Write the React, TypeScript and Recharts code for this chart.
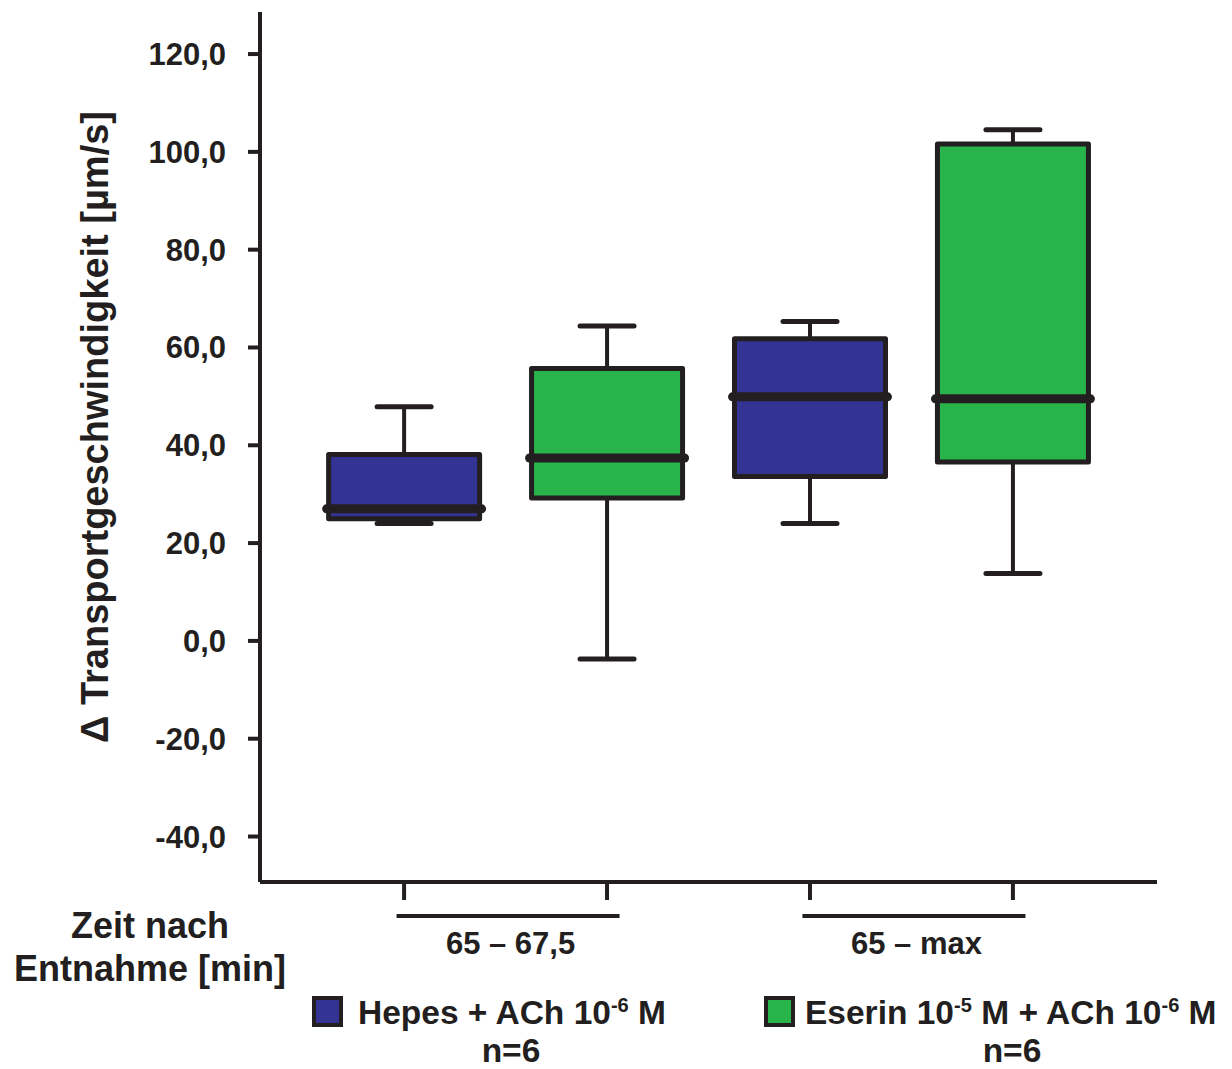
import React from 'react';
import { ComposedChart, Bar, XAxis, YAxis, Label } from 'recharts';

// box plot values
const positions = [1, 2, 3, 4];
const groups = ['hepes', 'eserin', 'hepes', 'eserin'];
const minValues = [24.0, -3.7, 24.0, 13.8];
const q1Values = [25.0, 29.2, 33.6, 36.6];
const medianValues = [27.0, 37.4, 49.9, 49.5];
const q3Values = [38.1, 55.7, 61.8, 101.6];
const maxValues = [47.9, 64.4, 65.3, 104.5];

const yTicks = [-40, -20, 0, 20, 40, 60, 80, 100, 120];
const groupTicks = [1.5, 3.5];
const groupLabels = ['65 – 67,5', '65 – max'];

const INK = '#231f20';
const FONT = '"Liberation Sans", Arial, Helvetica, sans-serif';
const colors: Record<string, string> = { hepes: '#333393', eserin: '#28b34b' };

const data = positions.map((pos, i) => ({
  pos,
  group: groups[i],
  base: minValues[i],
  lowWhisker: q1Values[i] - minValues[i],
  lowBox: medianValues[i] - q1Values[i],
  highBox: q3Values[i] - medianValues[i],
  highWhisker: maxValues[i] - q3Values[i],
}));

const norm = (p: any) => {
  const top = Math.min(p.y, p.y + p.height);
  const h = Math.abs(p.height);
  return { x: p.x, w: p.width, top, bottom: top + h, cx: p.x + p.width / 2 };
};

const LowWhisker = (props: any) => {
  const { top, bottom, cx } = norm(props);
  return (
    <g>
      <line x1={cx} x2={cx} y1={top} y2={bottom} stroke={INK} strokeWidth={4} />
      <line x1={cx - 27} x2={cx + 27} y1={bottom} y2={bottom} stroke={INK} strokeWidth={5} strokeLinecap="round" />
    </g>
  );
};

const HighWhisker = (props: any) => {
  const { top, bottom, cx } = norm(props);
  return (
    <g>
      <line x1={cx} x2={cx} y1={top} y2={bottom} stroke={INK} strokeWidth={4} />
      <line x1={cx - 27} x2={cx + 27} y1={top} y2={top} stroke={INK} strokeWidth={5} strokeLinecap="round" />
    </g>
  );
};

const LowBox = (props: any) => {
  const { x, w, top, bottom } = norm(props);
  return (
    <rect x={x} y={top} width={w} height={bottom - top} fill={colors[props.payload.group]} stroke={INK} strokeWidth={5} strokeLinejoin="round" />
  );
};

const HighBox = (props: any) => {
  const { x, w, top, bottom } = norm(props);
  return (
    <g>
      <rect x={x} y={top} width={w} height={bottom - top} fill={colors[props.payload.group]} stroke={INK} strokeWidth={5} strokeLinejoin="round" />
      <line x1={x - 2} x2={x + w + 2} y1={bottom} y2={bottom} stroke={INK} strokeWidth={9} strokeLinecap="round" />
    </g>
  );
};

const NoTick = () => <g />;

const GroupTick = (props: any) => {
  const { x, y, payload } = props;
  const label = groupLabels[groupTicks.indexOf(payload.value)];
  return (
    <g>
      <line x1={x - 109} x2={x + 114} y1={y + 14} y2={y + 14} stroke={INK} strokeWidth={4} />
      <text x={x + 5} y={y + 52} textAnchor="middle" fontFamily={FONT} fontWeight="bold" fontSize={31} fill={INK}>
        {label}
      </text>
    </g>
  );
};

const YTitle = (props: any) => {
  const { viewBox } = props;
  const cx = viewBox.x + 108;
  const cy = viewBox.y + viewBox.height / 2 - 20;
  return (
    <text x={cx} y={cy} transform={`rotate(-90 ${cx} ${cy})`} textAnchor="middle" fontFamily={FONT} fontWeight="bold" fontSize={38} fill={INK}>
      Δ Transportgeschwindigkeit [µm/s]
    </text>
  );
};

const textStyle: React.CSSProperties = {
  position: 'absolute',
  fontFamily: FONT,
  fontWeight: 'bold',
  color: INK,
  whiteSpace: 'nowrap',
  lineHeight: 1,
};

const sup: React.CSSProperties = { fontSize: '0.6em', verticalAlign: '0.6em' };

const Swatch = ({ color, left }: { color: string; left: number }) => (
  <div style={{ position: 'absolute', left, top: 996, width: 23, height: 23, background: color, border: `4px solid ${INK}` }} />
);

export default function App() {
  return (
    <div style={{ position: 'relative', width: 1232, height: 1069, background: '#fff', overflow: 'hidden' }}>
      <style>{'body{margin:0}'}</style>
      <ComposedChart width={1232} height={1069} data={data} margin={{ top: 12, right: 75, bottom: 107, left: 0 }}>
        <XAxis
          xAxisId={0}
          dataKey="pos"
          type="number"
          domain={[0.29, 4.71]}
          allowDataOverflow
          ticks={positions}
          tick={<NoTick />}
          tickSize={18}
          height={20}
          axisLine={{ stroke: INK, strokeWidth: 4 }}
          tickLine={{ stroke: INK, strokeWidth: 4 }}
        />
        <XAxis
          xAxisId={1}
          dataKey="pos"
          type="number"
          domain={[0.29, 4.71]}
          allowDataOverflow
          ticks={groupTicks}
          tick={<GroupTick />}
          tickSize={0}
          tickMargin={0}
          height={60}
          axisLine={false}
          tickLine={false}
        />
        <YAxis
          type="number"
          domain={[-49.3, 128.6]}
          allowDataOverflow
          ticks={yTicks}
          interval={0}
          width={260}
          tickSize={12}
          tickMargin={22}
          tickFormatter={(v: number) => v.toFixed(1).replace('.', ',')}
          tick={{ fill: INK, fontSize: 31, fontWeight: 'bold', fontFamily: FONT }}
          axisLine={{ stroke: INK, strokeWidth: 4 }}
          tickLine={{ stroke: INK, strokeWidth: 4 }}
        >
          <Label content={<YTitle />} />
        </YAxis>
        <Bar xAxisId={0} dataKey="base" stackId="box" barSize={151} fill="none" isAnimationActive={false} />
        <Bar xAxisId={0} dataKey="lowWhisker" stackId="box" barSize={151} shape={<LowWhisker />} isAnimationActive={false} />
        <Bar xAxisId={0} dataKey="lowBox" stackId="box" barSize={151} shape={<LowBox />} isAnimationActive={false} />
        <Bar xAxisId={0} dataKey="highBox" stackId="box" barSize={151} shape={<HighBox />} isAnimationActive={false} />
        <Bar xAxisId={0} dataKey="highWhisker" stackId="box" barSize={151} shape={<HighWhisker />} isAnimationActive={false} />
      </ComposedChart>

      <div style={{ ...textStyle, left: 0, width: 300, top: 908, fontSize: 36, textAlign: 'center' }}>Zeit nach</div>
      <div style={{ ...textStyle, left: 0, width: 300, top: 951, fontSize: 36, textAlign: 'center' }}>Entnahme [min]</div>

      <Swatch color={colors.hepes} left={312} />
      <div style={{ ...textStyle, left: 358, top: 995, fontSize: 33.5 }}>
        Hepes + ACh 10<sup style={sup}>-6</sup> M
      </div>
      <div style={{ ...textStyle, left: 411, width: 200, top: 1034, fontSize: 33.5, textAlign: 'center' }}>n=6</div>

      <Swatch color={colors.eserin} left={764} />
      <div style={{ ...textStyle, left: 805, top: 995, fontSize: 33.5 }}>
        Eserin 10<sup style={sup}>-5</sup> M + ACh 10<sup style={sup}>-6</sup> M
      </div>
      <div style={{ ...textStyle, left: 912, width: 200, top: 1034, fontSize: 33.5, textAlign: 'center' }}>n=6</div>
    </div>
  );
}
